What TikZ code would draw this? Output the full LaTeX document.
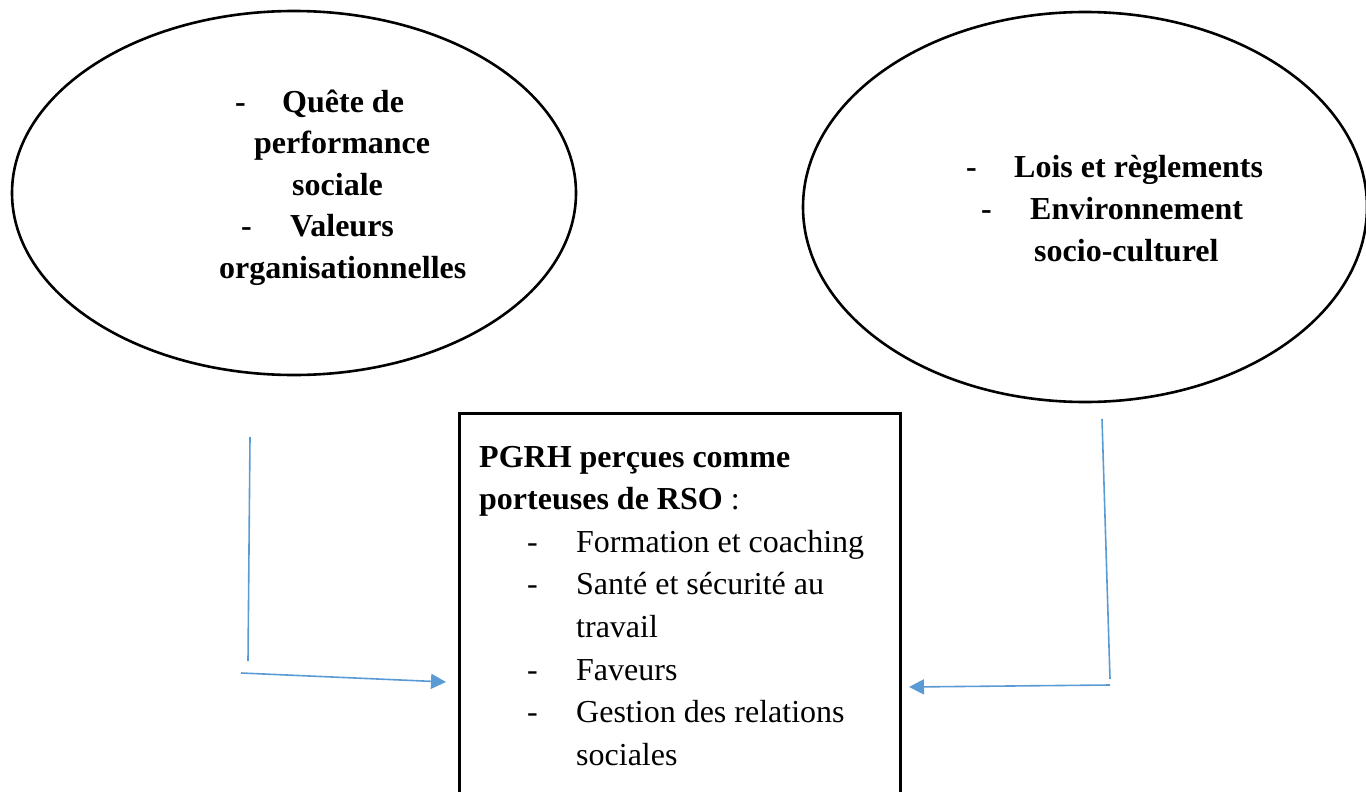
\documentclass[tikz,border=0pt]{standalone}
\usepackage{fontspec}
\setmainfont{Liberation Serif}
\usetikzlibrary{shapes.geometric,arrows.meta}
\definecolor{arrowblue}{HTML}{5B9BD5}
\tikzset{
  oval/.style={draw=black, line width=2.6pt, ellipse, inner sep=0pt},
  txt/.style={anchor=base west, inner sep=0pt, font=\fontsize{32}{42}\selectfont},
  btxt/.style={txt, font=\fontsize{32}{42}\selectfont\bfseries},
  conn/.style={draw=arrowblue, line width=1.6pt},
  arr/.style={conn, -{Triangle[length=15pt,width=15pt]}},
}
\begin{document}
\begin{tikzpicture}[x=1pt,y=-1pt]
\useasboundingbox (0,0) rectangle (1366,792);
\clip (0,0) rectangle (1366,792);
% ellipses
\node[oval, minimum width=564pt, minimum height=364pt] (e1) at (294,193) {};
\node[oval, minimum width=564pt, minimum height=390pt] (e2) at (1085,207) {};
% left ellipse text
\node[btxt] (d1) at (235,112) {-};
\node[btxt] (l1) at (282,112) {Quête de};
\node[btxt] (l2) at (254,153.6) {performance};
\node[btxt] (l3) at (292,195.2) {sociale};
\node[btxt] (d2) at (241,236.8) {-};
\node[btxt] (l4) at (290,236.8) {Valeurs};
\node[btxt] (l5) at (219,278.4) {organisationnelles};
% right ellipse text
\node[btxt] (d3) at (966,177) {-};
\node[btxt] (r1) at (1014,177) {Lois et règlements};
\node[btxt] (d4) at (981,219) {-};
\node[btxt] (r2) at (1030,219) {Environnement};
\node[btxt] (r3) at (1034,261) {socio-culturel};
% box
\node[draw=black, line width=2.6pt, minimum width=441pt, minimum height=400pt, anchor=north west, inner sep=0pt] (box) at (458,412) {};
\node[btxt] (b1) at (479,467) {PGRH perçues comme};
\node[txt] (b2) at (479,509.6) {\textbf{porteuses de RSO} :};
\node[txt] (bd1) at (527,552.2) {-};
\node[txt] (b3) at (576,552.2) {Formation et coaching};
\node[txt] (bd2) at (527,594.8) {-};
\node[txt] (b4) at (576,594.8) {Santé et sécurité au};
\node[txt] (b5) at (576,637.4) {travail};
\node[txt] (bd3) at (527,680) {-};
\node[txt] (b6) at (576,680) {Faveurs};
\node[txt] (bd4) at (527,722.6) {-};
\node[txt] (b7) at (576,722.6) {Gestion des relations};
\node[txt] (b8) at (576,765.2) {sociales};
% connectors
\coordinate (a1) at (250,437);
\coordinate (a2) at (248,661);
\coordinate (a3) at (241,673);
\coordinate (a4) at (446,682);
\coordinate (c1) at (1102,419);
\coordinate (c2) at (1110,679);
\coordinate (c3) at (1110,685);
\coordinate (c4) at (909,687);
\draw[conn] (a1) -- (a2);
\draw[arr] (a3) -- (a4);
\draw[conn] (c1) -- (c2);
\draw[arr] (c3) -- (c4);
\end{tikzpicture}
\end{document}
